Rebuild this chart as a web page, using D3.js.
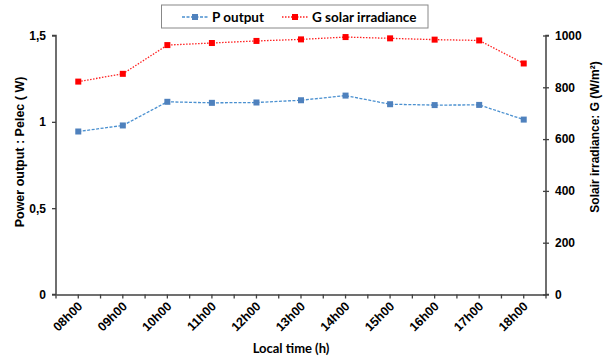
<!DOCTYPE html>
<html>
<head>
<meta charset="utf-8">
<script src="https://cdn.jsdelivr.net/npm/d3@7"></script>
<style>
  html, body { margin: 0; padding: 0; background: #fff; }
  svg { display: block; }
</style>
</head>
<body>
<svg id="chart" width="607" height="358"></svg>
<script>
// Hourly measurements
const hours = ["08h00","09h00","10h00","11h00","12h00","13h00","14h00","15h00","16h00","17h00","18h00"];
const powerOutput = [0.944, 0.979, 1.116, 1.110, 1.112, 1.125, 1.152, 1.102, 1.097, 1.098, 1.013];
const irradiance = [822, 852, 963, 971, 979, 985, 994, 989, 984, 981, 892];
const powerTicks = [0, 0.5, 1, 1.5];
const irradianceTicks = [0, 200, 400, 600, 800, 1000];

const svg = d3.select("#chart");
const plotLeft = 56, plotRight = 546, plotTop = 35.5, plotBottom = 294.5;
const axisColor = "#404040";
const tickFont = "'Liberation Sans', Arial, sans-serif";
const titleFont = "Lato, 'Open Sans', sans-serif";

const x = d3.scaleBand().domain(hours).range([plotLeft, plotRight]).padding(0);
const yP = d3.scaleLinear().domain([0, 1.5]).range([plotBottom, plotTop]);
const yG = d3.scaleLinear().domain([0, 1000]).range([plotBottom, plotTop]);

const fmtP = d => String(d).replace(".", ",");

// Left axis
const gL = svg.append("g").attr("transform", `translate(${plotLeft},0)`)
  .call(d3.axisLeft(yP).tickValues(powerTicks).tickFormat(fmtP).tickSize(4).tickPadding(6));
// Right axis
const gR = svg.append("g").attr("transform", `translate(${plotRight},0)`)
  .call(d3.axisRight(yG).tickValues(irradianceTicks).tickFormat(d3.format("d")).tickSize(3).tickPadding(6));
gR.selectAll(".tick line").attr("x1", -3).attr("x2", 3);
// Bottom axis: ticks at every half category
const gB = svg.append("g").attr("transform", `translate(0,${plotBottom})`)
  .call(d3.axisBottom(x).tickSize(0).tickFormat(""));
const marks = d3.range(hours.length * 2 + 1).map(i => plotLeft + i * x.bandwidth() / 2);
gB.selectAll(".bound").data(marks).join("line")
  .attr("x1", d => d).attr("x2", d => d).attr("y1", 0).attr("y2", 4)
  .attr("stroke", axisColor).attr("stroke-width", 1.3);
gB.selectAll(".hlabel").data(hours).join("text")
  .attr("transform", d => `translate(${x(d) + x.bandwidth() / 2 + 5},${12.5}) rotate(-45)`)
  .attr("text-anchor", "end")
  .attr("fill", "#000")
  .style("font", `bold 12.5px ${tickFont}`)
  .text(d => d);

[gL, gR, gB].forEach(g => {
  g.select(".domain").attr("stroke", axisColor).attr("stroke-width", 1.5);
  g.selectAll(".tick line").attr("stroke", axisColor).attr("stroke-width", 1.3);
  g.selectAll(".tick text").attr("fill", "#000").style("font", `bold 12px ${tickFont}`);
});
gL.select(".domain").attr("d", `M-4,${plotTop}H0V${plotBottom}H-4`);
gR.select(".domain").attr("d", `M3,${plotTop}H0V${plotBottom}H3`);

// Series
const cx = d => x(d) + x.bandwidth() / 2;
const lineP = d3.line().x((d, i) => cx(hours[i])).y(d => yP(d));
const lineG = d3.line().x((d, i) => cx(hours[i])).y(d => yG(d));

svg.append("path").datum(powerOutput).attr("d", lineP)
  .attr("fill", "none").attr("stroke", "#4a90d0").attr("stroke-width", 1.3)
  .attr("stroke-dasharray", "3,1.5");
svg.selectAll(".mp").data(powerOutput).join("rect")
  .attr("x", (d, i) => cx(hours[i]) - 3).attr("y", d => yP(d) - 3)
  .attr("width", 6).attr("height", 6).attr("fill", "#4f81bd");

svg.append("path").datum(irradiance).attr("d", lineG)
  .attr("fill", "none").attr("stroke", "#ff2020").attr("stroke-width", 1.3)
  .attr("stroke-dasharray", "1.5,1.5");
svg.selectAll(".mg").data(irradiance).join("rect")
  .attr("x", (d, i) => cx(hours[i]) - 3).attr("y", d => yG(d) - 3)
  .attr("width", 6).attr("height", 6).attr("fill", "#ff0000");

// Axis titles
svg.append("text").attr("x", 291).attr("y", 353).attr("text-anchor", "middle")
  .style("font", `bold 13px ${titleFont}`).text("Local time (h)");
svg.append("text").attr("transform", "translate(24,152) rotate(-90)").attr("text-anchor", "middle")
  .style("font", `bold 12.5px ${tickFont}`).text("Power output : Pelec ( W)");
svg.append("text").attr("transform", "translate(599,137) rotate(-90)").attr("text-anchor", "middle")
  .style("font", `bold 12px ${tickFont}`)
  .text("Solair irradiance: G (W/m²)");

// Legend
const lg = svg.append("g");
lg.append("rect").attr("x", 161.5).attr("y", 5).attr("width", 266.5).attr("height", 23)
  .attr("fill", "#fff").attr("stroke", "#888").attr("stroke-width", 1);
const legendItems = [
  { label: "P output", x0: 182, x1: 208, tx: 212, color: "#4a90d0", mark: "#4f81bd", dash: "3,1.5" },
  { label: "G solar irradiance", x0: 282, x1: 308, tx: 312, color: "#ff2020", mark: "#ff0000", dash: "1.5,1.5" }
];
legendItems.forEach(it => {
  lg.append("line").attr("x1", it.x0).attr("x2", it.x1).attr("y1", 17).attr("y2", 17)
    .attr("stroke", it.color).attr("stroke-width", 1.3).attr("stroke-dasharray", it.dash);
  lg.append("rect").attr("x", (it.x0 + it.x1) / 2 - 3).attr("y", 14).attr("width", 6).attr("height", 6)
    .attr("fill", it.mark);
  lg.append("text").attr("x", it.tx).attr("y", 22)
    .style("font", `bold 13.5px ${titleFont}`).text(it.label);
});
</script>
</body>
</html>
